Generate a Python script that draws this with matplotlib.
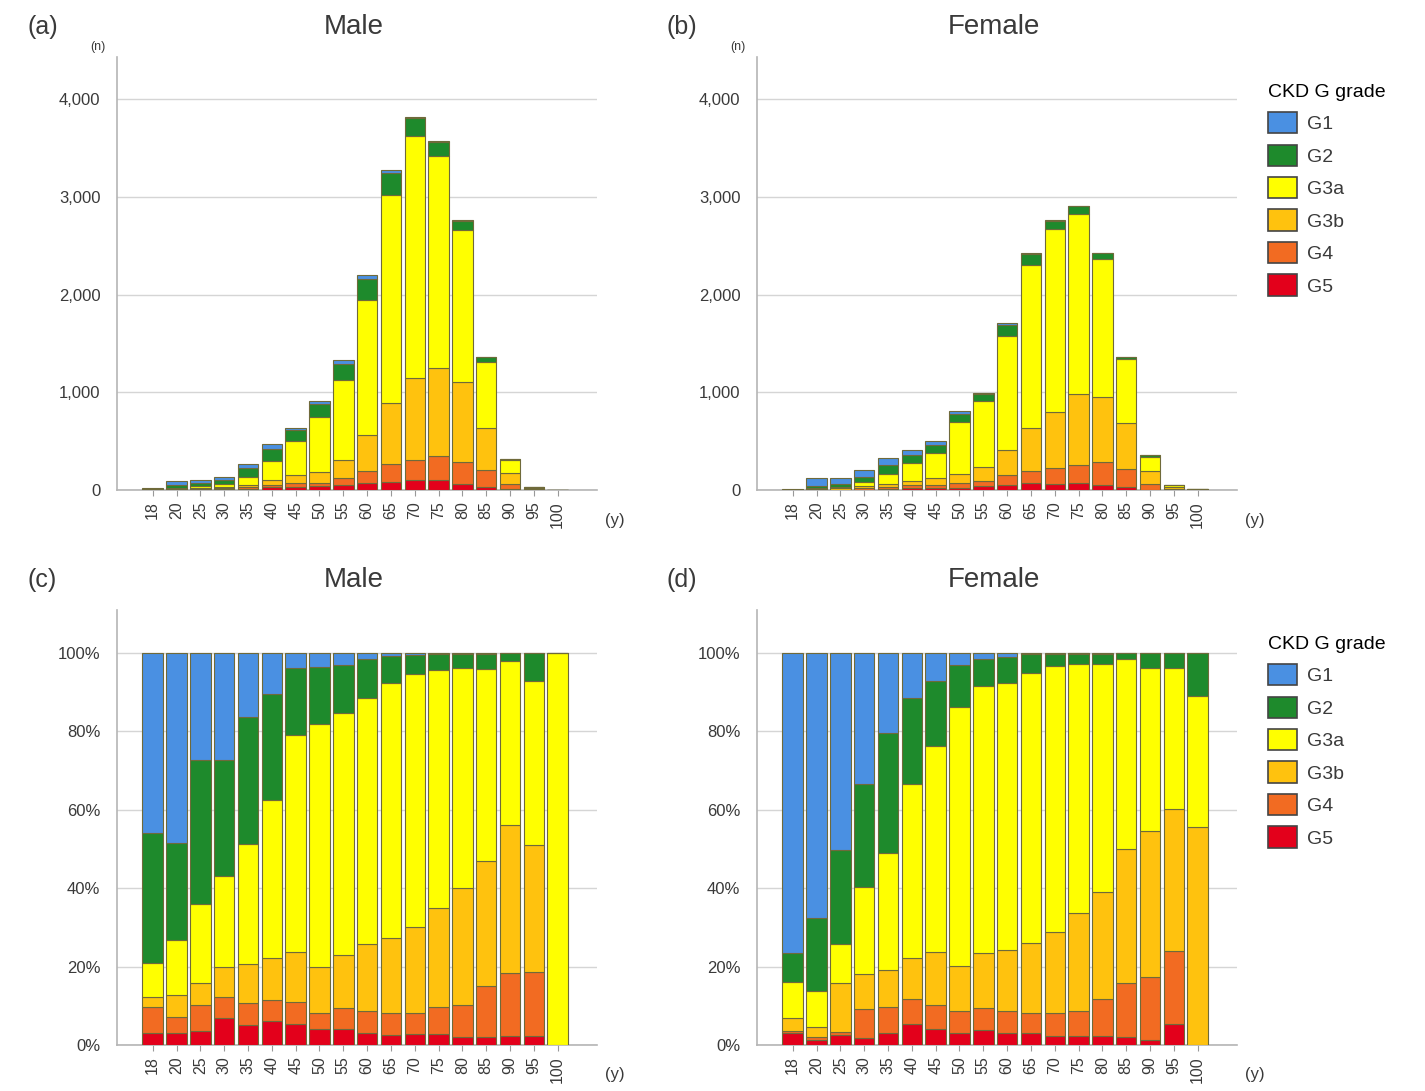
import matplotlib
matplotlib.use("Agg")
import matplotlib.pyplot as plt
from matplotlib.patches import Patch
from matplotlib.ticker import FuncFormatter
import numpy as np

plt.rcParams['font.family'] = ['Liberation Sans', 'DejaVu Sans']

# -------------------------------
# DATA
# -------------------------------
ages = ["18", "20", "25", "30", "35", "40", "45", "50", "55", "60",
        "65", "70", "75", "80", "85", "90", "95", "100"]
grades = ["G1", "G2", "G3a", "G3b", "G4", "G5"]
colors = ["#4a90e2", "#1e8a2c", "#ffff00", "#ffc20e", "#f26b22", "#e3001b"]

# total number of people per age group
male_total = [25, 90, 100, 135, 265, 470, 635, 915, 1330, 2195,
              3270, 3820, 3575, 2760, 1360, 315, 35, 5]
female_total = [15, 127, 127, 205, 325, 410, 497, 806, 995, 1705,
                2425, 2760, 2905, 2425, 1362, 353, 50, 10]

# share of each grade per age group (%)
male_g1 = [45.8, 48.5, 27.4, 27.4, 16.3, 10.4, 3.8, 3.6, 3.0, 1.5, 0.7, 0.5, 0.3, 0.2, 0.2, 0.0, 0.0, 0.0]
male_g2 = [33.3, 24.7, 36.6, 29.6, 32.4, 27.0, 17.1, 14.4, 12.3, 10.0, 7.0, 4.8, 4.1, 3.6, 3.8, 2.1, 7.2, 0.0]
male_g3a = [8.7, 14.0, 20.3, 23.0, 30.6, 40.5, 55.3, 62.0, 61.7, 62.7, 65.1, 64.7, 60.7, 56.2, 49.0, 41.7, 41.8, 100.0]
male_g3b = [2.6, 5.6, 5.5, 7.8, 9.9, 10.6, 12.7, 11.9, 13.6, 17.0, 19.1, 21.9, 25.3, 29.8, 31.9, 37.9, 32.3, 0.0]
male_g4 = [6.6, 4.2, 6.6, 5.4, 5.7, 5.5, 5.8, 4.1, 5.4, 5.7, 5.5, 5.4, 6.8, 8.1, 13.0, 16.0, 16.4, 0.0]
male_g5 = [3.0, 3.0, 3.6, 6.8, 5.1, 6.0, 5.3, 4.0, 4.0, 3.1, 2.6, 2.7, 2.8, 2.1, 2.1, 2.3, 2.3, 0.0]

female_g1 = [76.6, 67.7, 50.2, 33.4, 20.3, 11.5, 7.2, 3.0, 1.5, 0.9, 0.3, 0.2, 0.1, 0.1, 0.1, 0.0, 0.0, 0.0]
female_g2 = [7.2, 18.4, 24.0, 26.2, 30.8, 21.9, 16.6, 10.8, 7.0, 6.8, 4.8, 3.2, 2.6, 2.6, 1.4, 3.8, 3.7, 10.9]
female_g3a = [9.4, 9.4, 10.1, 22.3, 29.8, 44.5, 52.4, 66.0, 67.9, 68.0, 68.9, 67.7, 63.5, 58.2, 48.5, 41.7, 36.1, 33.5]
female_g3b = [3.3, 2.4, 12.3, 9.0, 9.3, 10.4, 13.6, 11.4, 14.2, 15.5, 17.9, 20.8, 25.0, 27.4, 34.1, 37.2, 36.2, 55.6]
female_g4 = [0.5, 0.7, 0.8, 7.4, 6.7, 6.4, 6.2, 5.8, 5.6, 5.7, 5.1, 5.8, 6.5, 9.4, 13.8, 15.9, 18.7, 0.0]
female_g5 = [3.0, 1.4, 2.6, 1.7, 3.1, 5.3, 4.0, 3.0, 3.8, 3.1, 3.0, 2.3, 2.3, 2.3, 2.1, 1.4, 5.3, 0.0]

male_shares = [male_g1, male_g2, male_g3a, male_g3b, male_g4, male_g5]
female_shares = [female_g1, female_g2, female_g3a, female_g3b, female_g4, female_g5]

# -------------------------------
# FIGURE
# -------------------------------
W, H = 1425, 1091
fig = plt.figure(figsize=(W / 100, H / 100), dpi=100)


def ax_at(left, top, right, bottom):
    return fig.add_axes([left / W, 1 - bottom / H, (right - left) / W, (bottom - top) / H])


txt_col = "#3a3a3a"
edge_col = "#6f6a3a"


def stacked(ax, shares, total, percent):
    s = np.array(shares, dtype=float)
    s = s / s.sum(axis=0) * 100
    if percent:
        vals = s
    else:
        vals = s / 100 * np.array(total, dtype=float)
    x = np.arange(len(ages))
    bottom = np.zeros(len(ages))
    # stack from G5 at the bottom up to G1
    for i in range(len(grades) - 1, -1, -1):
        ax.bar(x, vals[i], bottom=bottom, width=0.86, color=colors[i],
               edgecolor=edge_col, linewidth=0.8, zorder=3)
        bottom += vals[i]


def style(ax, percent):
    ax.set_xlim(-1.5, 18.65)
    ax.set_xticks(np.arange(len(ages)))
    ax.set_xticklabels(ages, rotation=90, fontsize=11.5, color=txt_col)
    for sp in ["top", "right"]:
        ax.spines[sp].set_visible(False)
    for sp in ["left", "bottom"]:
        ax.spines[sp].set_color("#b5b5b5")
        ax.spines[sp].set_linewidth(1.2)
    ax.tick_params(axis="x", length=4, color="#999999", pad=4)
    ax.tick_params(axis="y", length=0, labelsize=12, labelcolor=txt_col, pad=12)
    ax.grid(axis="y", color="#d5d5d5", linewidth=1.0, zorder=0)
    ax.set_axisbelow(True)
    if percent:
        ax.set_ylim(0, 111)
        ax.set_yticks([0, 20, 40, 60, 80, 100])
        ax.yaxis.set_major_formatter(FuncFormatter(lambda v, p: "%d%%" % v))
    else:
        ax.set_ylim(0, 4430)
        ax.set_yticks([0, 1000, 2000, 3000, 4000])
        ax.yaxis.set_major_formatter(FuncFormatter(lambda v, p: "{:,}".format(int(v))))


panels = [
    ("(a)", "Male", male_shares, male_total, False, (117, 57, 597, 490)),
    ("(b)", "Female", female_shares, female_total, False, (757, 57, 1237, 490)),
    ("(c)", "Male", male_shares, male_total, True, (117, 610, 597, 1045)),
    ("(d)", "Female", female_shares, female_total, True, (757, 610, 1237, 1045)),
]

for tag, title, shares, total, percent, box in panels:
    ax = ax_at(*box)
    stacked(ax, shares, total, percent)
    style(ax, percent)
    left, top, right, bottom = box
    fig.text((left - 90) / W, 1 - (top - 30) / H, tag, fontsize=18, color=txt_col,
             ha="left", va="center")
    fig.text((left + right) / 2 / W - 0.002, 1 - (top - 30) / H, title, fontsize=20,
             color=txt_col, ha="center", va="center")
    if not percent:
        fig.text((left - 19) / W, 1 - (top - 10) / H, "(n)", fontsize=9,
                 color=txt_col, ha="center", va="center")
    fig.text((right + 18) / W, 1 - (bottom + 30) / H, "(y)", fontsize=12,
             color=txt_col, ha="center", va="center")

# legends
handles = [Patch(facecolor=c, edgecolor="#444444", linewidth=1.2, label=g)
           for g, c in zip(grades, colors)]
for y_top in (76, 628):
    fig.legend(handles=handles, title="CKD G grade", loc="upper left",
               bbox_to_anchor=(1260 / W, 1 - y_top / H), frameon=False,
               fontsize=14, title_fontsize=14, handlelength=1.5, handleheight=1.3,
               handletextpad=0.5, labelspacing=0.58, borderaxespad=0,
               alignment="left", labelcolor=txt_col)

fig.savefig("out.png", dpi=100)
